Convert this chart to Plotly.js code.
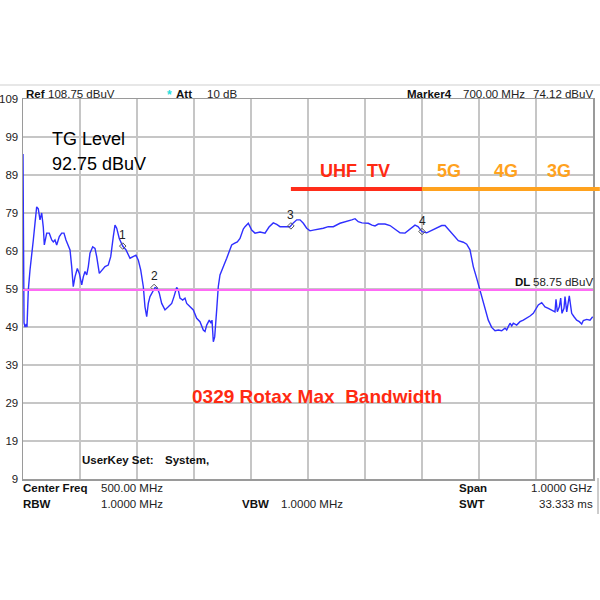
<!DOCTYPE html>
<html>
<head>
<meta charset="utf-8">
<script src="https://cdn.plot.ly/plotly-3.0.1.min.js"></script>
<style>html,body{margin:0;padding:0;background:#fff;}#chart{width:600px;height:600px;}</style>
</head>
<body>
<div id="chart"></div>
<script>
// ---- data ----
const freqMHz = [0,0.5,1.8,3.5,5.8,7,9.3,12.3,15.3,18.1,
21.1,24.0,26.8,29.8,32.8,35.6,37.4,41.6,46.1,50.4,
53.2,56.1,59.1,63.7,67.9,71.9,75.4,79.5,82.5,85.4,
88.2,91.2,95.3,98.8,103,105.8,108.8,111.8,114.6,117.5,
122.3,126.3,129.3,133.9,138.1,143.9,149.6,153.9,158.4,161.4,
164.4,168.9,174.9,180.7,187.7,193.5,198.2,202.3,206.5,211.1,
214,217,219.8,222.8,227.5,231.6,235.6,239.1,243.3,249.1,
254.9,260.9,264.9,269.6,272.5,275.4,280.2,284.2,287.2,293,
298.8,304.7,310.5,316.3,319.3,322.3,326.8,329.8,331.6,333.9,
336.3,339.8,342.6,345.6,348.6,352.6,357.4,361.4,366.1,370.7,
376,380.7,383.7,386.5,389.5,395.3,401.2,407,415.8,424.6,
431.6,439.1,445.1,450.9,459.6,468.4,474.2,480.2,486,491.8,
497.7,503.5,509.3,518.1,526.8,535.6,544.4,556.1,567.9,576.7,
582.5,588.2,594.7,605.8,612.3,617.5,623.3,635.1,643.9,652.6,
661.4,670.2,678.9,687.7,693,700,708.2,717,725.8,734.6,
740.4,746.1,754.9,763.7,772.5,778.4,784.2,790,796,801.8,
810.5,816.3,822.3,828.1,833.9,839.8,845.6,848.6,851.4,854.4,
857.4,860.2,866.1,871.9,877.7,883.7,889.5,895.3,901.2,904,
910,915.8,921.6,927.5,933.3,935.1,937.4,940.9,943.3,945.6,
949.1,950.9,953.9,958.4,962.6,966.7,971.4,976,980.2,983,
989,994.7,999.5];
const levelDbuV = [94.5,75.1,50.1,49.0,49.8,49.0,58.7,64.0,67.4,71.9,
76.4,80.6,80.1,77.2,79.0,75.3,70.6,73.7,73.7,71.9,
71.4,71.9,70.6,72.8,73.7,73.7,71.9,70.6,69.3,64.9,
59.6,62.2,64.4,63.1,60.1,62.2,63.6,62.7,64.9,68.4,
70.1,69.7,67.5,63.1,64.0,64.9,65.3,67.5,72.8,75.8,
75.0,72.3,70.3,69.3,67.1,67.5,67.9,66.6,64.0,59.6,
54.3,51.7,55.2,57.0,58.3,59.4,59.2,57.9,55.2,53.5,
54.3,55.2,57.0,59.4,58.7,56.6,56.1,56.6,55.2,54.3,
53.5,51.3,50.4,48.2,47.8,49.5,50.8,50.0,50.8,45.1,
46.4,53.5,59.6,62.7,64.0,65.3,67.1,68.8,70.6,71.0,
71.4,72.3,73.7,74.8,75.4,76.3,74.5,73.7,74.0,73.7,
75.3,76.4,76.0,75.4,75.4,75.4,76.4,77.2,77.2,76.3,
75.0,74.3,74.5,74.7,75.0,75.4,75.4,76.3,76.7,77.2,
77.5,76.7,76.4,76.3,75.8,75.6,76.1,76.1,75.7,74.7,
73.8,73.7,74.7,75.8,75.4,74.1,73.8,74.5,75.1,75.7,
75.7,74.7,73.2,71.7,71.3,70.8,69.3,64.9,61.8,58.7,
54.3,50.8,48.9,48.0,48.2,48.0,48.7,48.2,49.1,50.0,
49.3,50.0,49.5,50.4,50.8,51.3,51.9,52.6,53.9,54.8,
55.4,54.3,53.9,53.5,53.0,56.3,53.0,54.3,56.6,52.6,
53.9,57.0,53.0,57.2,52.6,51.7,50.8,50.4,49.8,50.7,
51.0,50.8,51.7];

const markerFreqMHz = [175, 230, 470, 700];
const markerLevel = [70.3, 59.4, 75.6, 74.12];
const markerLabels = ['1', '2', '3', '4'];

const yTickVals = [9, 19, 29, 39, 49, 59, 69, 79, 89, 99, 109];
const yTickText = ['9', '19', '29', '39', '49', '59', '69', '79', '89', '99', '109'];
const xGridVals = [0, 100, 200, 300, 400, 500, 600, 700, 800, 900, 1000];

const displayLineLevel = 58.75;
const bandNames = ['UHF  TV', '5G', '4G', '3G'];
const bandLineStart = [470, 700];
const bandLineEnd = [700, 1012];
const bandLineLevel = 85.3;

// ---- layout helpers (pixel -> paper) ----
const L = 23, R = 593, T = 99, B = 479;
const PX = p => (p - L) / (R - L);
const PY = p => (B - p) / (B - T);
const FONT = 'Arial, "Liberation Sans", sans-serif';

function txt(text, px, py, size, color, anchor, bold) {
  return {
    xref: 'paper', yref: 'paper', x: PX(px), y: PY(py),
    xanchor: anchor || 'left', yanchor: 'middle',
    text: bold ? '<b>' + text + '</b>' : text,
    showarrow: false, borderpad: 0,
    font: {family: FONT, size: size, color: color || '#000'}
  };
}

const annotations = [
  txt('Ref', 25, 94, 11.5, '#111', 'left', true),
  txt('108.75 dBuV', 47, 94, 11.5, '#222'),
  txt('*', 166, 95, 12, '#22dddd', 'left', true),
  txt('Att', 175, 94, 11.5, '#111', 'left', true),
  txt('10 dB', 206, 94, 11.5, '#222'),
  txt('Marker' + markerLabels[3], 406, 94, 11.5, '#111', 'left', true),
  txt(markerFreqMHz[3].toFixed(2) + ' MHz', 462, 94, 11.5, '#222'),
  txt(markerLevel[3].toFixed(2) + ' dBuV', 594, 94, 11.5, '#222', 'right'),
  txt('TG Level', 51, 139, 18, '#000'),
  txt('92.75 dBuV', 51, 164, 18, '#000'),
  txt(bandNames[0], 319, 171, 18, '#ff2a12', 'left', true),
  txt(bandNames[1], 436, 171, 18, '#ffa21e', 'left', true),
  txt(bandNames[2], 493, 171, 18, '#ffa21e', 'left', true),
  txt(bandNames[3], 546, 171, 18, '#ffa21e', 'left', true),
  txt('DL', 514, 282, 11.5, '#111', 'left', true),
  txt(displayLineLevel.toFixed(2) + ' dBuV', 594, 282, 11.5, '#222', 'right'),
  txt('0329 Rotax Max&nbsp;&nbsp;Bandwidth', 317, 396, 19, '#ff2a12', 'center', true),
  txt('UserKey Set:', 81, 460, 11.5, '#111', 'left', true),
  txt('System,', 164, 460, 11.5, '#111', 'left', true),
  txt('Center Freq', 22, 488, 11.5, '#111', 'left', true),
  txt('500.00 MHz', 100, 488, 11.5, '#222'),
  txt('Span', 458, 488, 11.5, '#111', 'left', true),
  txt('1.0000 GHz', 594, 488, 11.5, '#222', 'right'),
  txt('RBW', 22, 504, 11.5, '#111', 'left', true),
  txt('1.0000 MHz', 100, 504, 11.5, '#222'),
  txt('VBW', 241, 504, 11.5, '#111', 'left', true),
  txt('1.0000 MHz', 280, 504, 11.5, '#222'),
  txt('SWT', 458, 504, 11.5, '#111', 'left', true),
  txt('33.333 ms', 594, 504, 11.5, '#222', 'right')
];
markerFreqMHz.forEach((f, i) => {
  annotations.push({
    xref: 'x', yref: 'y', x: f, y: markerLevel[i], yshift: 11,
    text: markerLabels[i], showarrow: false,
    font: {family: FONT, size: 12, color: '#222'}
  });
});

const bandColors = ['#ff2d1a', '#ffa21e'];
const shapes = [
  {type: 'line', xref: 'paper', yref: 'y', x0: 0, x1: 1, y0: displayLineLevel, y1: displayLineLevel,
   line: {color: '#ff6bf5', width: 2}},
  {type: 'line', xref: 'paper', yref: 'paper', x0: PX(0), x1: PX(600), y0: PY(85), y1: PY(85),
   line: {color: '#cfcfcf', width: 1}},
  {type: 'line', xref: 'paper', yref: 'paper', x0: PX(598), x1: PX(598), y0: PY(478), y1: PY(514),
   line: {color: '#9a9a9a', width: 1}}
];
bandLineStart.forEach((s, i) => {
  shapes.push({type: 'line', xref: 'paper', yref: 'paper',
    x0: s / 1000, x1: bandLineEnd[i] / 1000,
    y0: (bandLineLevel - 9) / 100, y1: (bandLineLevel - 9) / 100,
    line: {color: bandColors[i], width: 4}});
});

const traces = [
  {x: freqMHz, y: levelDbuV, type: 'scatter', mode: 'lines',
   line: {color: '#2f2fff', width: 1.4}, hoverinfo: 'skip'},
  {x: markerFreqMHz, y: markerLevel, type: 'scatter', mode: 'markers',
   marker: {symbol: 'diamond-open', size: 5, color: '#555', line: {width: 1}}, hoverinfo: 'skip'}
];

const layout = {
  width: 600, height: 600,
  margin: {l: L, r: 600 - R, t: T, b: 600 - B, pad: 0},
  paper_bgcolor: '#ffffff', plot_bgcolor: '#ffffff',
  showlegend: false,
  xaxis: {range: [0, 1000], tickmode: 'array', tickvals: xGridVals, showticklabels: false,
    showgrid: true, gridcolor: '#c6c6c6', gridwidth: 1.5, zeroline: false,
    showline: true, mirror: true, linecolor: '#9a9a9a', linewidth: 1.5, ticks: ''},
  yaxis: {range: [9, 109], tickmode: 'array', tickvals: yTickVals, ticktext: yTickText,
    showgrid: true, gridcolor: '#c6c6c6', gridwidth: 1.5, zeroline: false,
    showline: true, mirror: true, linecolor: '#9a9a9a', linewidth: 1.5, ticks: '',
    ticklabelstandoff: 1,
    tickfont: {family: FONT, size: 11.5, color: '#222'}},
  annotations: annotations,
  shapes: shapes
};

Plotly.newPlot('chart', traces, layout, {staticPlot: true, displayModeBar: false});
</script>
</body>
</html>
